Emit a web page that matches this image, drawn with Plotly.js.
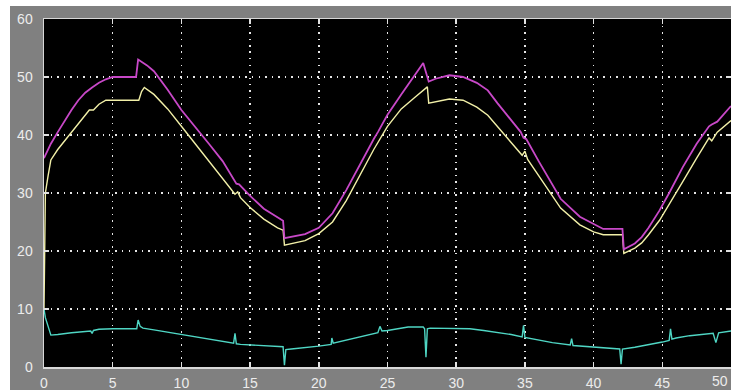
<!DOCTYPE html>
<html>
<head>
<meta charset="utf-8">
<script src="https://cdn.plot.ly/plotly-3.0.1.min.js"></script>
<style>
  html, body { margin: 0; padding: 0; background: #ffffff; overflow: hidden; }
  #frame { position: absolute; left: 10px; top: 6px; width: 721px; height: 384px; background: #808080; }
  #chart { position: absolute; left: 0; top: 0; width: 731px; height: 390px; }
</style>
</head>
<body>
<div id="frame"></div>
<div id="chart"></div>
<script>
// Magenta trace (upper curve)
const magentaT = [0, 0.5, 1, 1.5, 2, 2.5, 3, 3.5, 4, 4.5,
                  5, 6.0, 6.7, 6.85, 7.5, 8, 9, 10, 11, 12,
                  13, 13.8, 14.0, 14.2, 15, 16, 17, 17.4, 17.5, 18,
                  19, 20, 21, 22, 23, 24, 24.3, 25, 26, 27,
                  27.6, 28, 28.5, 29.5, 30.5, 31.5, 32.3, 33, 34, 34.7,
                  34.9, 35.1, 36, 37, 37.6, 39, 40, 40.7, 42.1, 42.2,
                  43, 43.5, 44, 44.8, 45.5, 46.5, 47.5, 48.4, 48.6, 49,
                  50];
const magentaV = [36, 38.5, 40.5, 42.5, 44.3, 46, 47.3, 48.2, 49, 49.6,
                  50, 50, 50, 53, 52, 51, 47.8, 44.3, 41.5, 38.5,
                  35.5, 32.5, 31.6, 31.5, 29.5, 27.3, 25.8, 25.2, 22.2, 22.4,
                  22.9, 24, 26.5, 30.5, 35, 39.3, 40.5, 43.5, 47, 50.5,
                  52.4, 49.2, 49.7, 50.3, 50, 49, 47.7, 45.5, 42.5, 40.5,
                  39.5, 39.3, 35.5, 31.5, 29, 25.9, 24.6, 23.8, 23.8, 20.3,
                  21.3, 22.4, 24, 27, 30, 34.5, 38.5, 41.5, 41.8, 42.3,
                  45];

// Yellow trace (middle curve)
const yellowT = [0, 0.05, 0.1, 0.3, 0.5, 1, 1.5, 2, 2.5, 3,
                 3.3, 3.6, 4, 4.5, 6.9, 7.1, 7.3, 8, 9, 10,
                 11, 12, 13, 13.9, 14.1, 14.3, 15, 16, 17, 17.4,
                 17.5, 18, 19, 20, 21, 22, 23, 24, 25, 26,
                 27, 27.9, 28.0, 28.5, 29.5, 30.5, 31.5, 32.3, 33, 34,
                 34.8, 35.0, 35.2, 36, 37, 37.6, 39, 40, 40.7, 42.1,
                 42.2, 43, 43.5, 44, 44.8, 45.5, 46.5, 47.5, 48.4, 48.6,
                 49, 50];
const yellowV = [10, 26, 30, 33, 35.7, 37.5, 39, 40.5, 42, 43.5,
                 44.3, 44.3, 45.3, 46, 46, 47.5, 48.2, 47, 44.5, 41.5,
                 38.5, 35.5, 32.3, 29.8, 30.2, 29.2, 27.5, 25.5, 24, 23.6,
                 21, 21.3, 21.8, 23, 25, 28.7, 33, 37.5, 41.5, 44.5,
                 46.5, 48.3, 45.5, 45.7, 46.2, 46, 44.8, 43.4, 41.5, 38.8,
                 36.5, 37.2, 35.8, 33, 29.5, 27.4, 24.5, 23.3, 22.8, 22.8,
                 19.6, 20.5, 21.4, 22.8, 25.3, 28, 32, 36, 39.5, 39,
                 40.5, 42.5];

// Cyan trace (lower curve)
const cyanT = [0, 0.1, 0.5, 0.7, 1, 2, 3, 3.4, 3.5, 3.6,
               4, 5, 6.75, 6.85, 7.0, 7.2, 8, 9, 10, 11,
               12, 13, 13.8, 13.9, 14.0, 14.3, 15, 16, 17, 17.4,
               17.5, 17.6, 18, 19, 20, 20.9, 20.95, 21.05, 22, 23,
               24.3, 24.45, 24.6, 25, 26, 26.5, 27.6, 27.7, 27.8, 27.9,
               28.1, 29, 30, 31, 32, 33, 34, 34.8, 34.9, 35.0,
               36, 37, 38.3, 38.4, 38.5, 39, 40, 41, 41.9, 42.0,
               42.1, 43, 44, 45, 45.5, 45.6, 45.7, 46, 47, 48,
               48.7, 48.9, 49.1, 50];
const cyanV = [10, 8.5, 5.5, 5.5, 5.6, 5.9, 6.2, 6.2, 5.8, 6.3,
               6.5, 6.6, 6.6, 8.1, 7.0, 6.7, 6.4, 6.0, 5.6, 5.2,
               4.8, 4.4, 4.1, 5.8, 4.0, 3.9, 3.8, 3.7, 3.6, 3.5,
               0.3, 3.0, 3.1, 3.3, 3.6, 3.9, 5.0, 4.1, 4.6, 5.2,
               5.9, 7.0, 6.2, 6.3, 6.7, 6.9, 6.9, 6.6, 1.7, 6.6,
               6.7, 6.7, 6.7, 6.6, 6.3, 6.0, 5.6, 5.2, 7.2, 5.1,
               4.6, 4.2, 3.8, 4.9, 3.7, 3.6, 3.4, 3.2, 3.1, 0.5,
               3.1, 3.4, 3.8, 4.3, 4.6, 6.6, 4.8, 5.0, 5.4, 5.7,
               5.8, 4.2, 5.9, 6.2];

const xTicks = [0, 5, 10, 15, 20, 25, 30, 35, 40, 45, 50];
const yTicks = [0, 10, 20, 30, 40, 50, 60];

const lineW = 1.4;
const traces = [
  {x: cyanT, y: cyanV, type: 'scatter', mode: 'lines', line: {color: '#4fd6c4', width: lineW}},
  {x: yellowT, y: yellowV, type: 'scatter', mode: 'lines', line: {color: '#f2f0a8', width: lineW}},
  {x: magentaT, y: magentaV, type: 'scatter', mode: 'lines', line: {color: '#c848c8', width: lineW + 0.4}}
];

const tickFont = {family: 'Liberation Sans, Arial, sans-serif', size: 14, color: '#ececec'};

const axisCommon = {
  showgrid: true,
  gridcolor: '#e6e6e6',
  gridwidth: 1.5,
  griddash: '1.5px,5px',
  zeroline: false,
  showline: true,
  linecolor: '#d8d8d8',
  linewidth: 1.5,
  mirror: 'ticks',
  ticks: 'inside',
  ticklen: 5,
  tickcolor: '#e0e0e0',
  tickwidth: 1.5,
  tickfont: tickFont,
  fixedrange: true
};

// The last x tick label sits at the window edge; anchor it to the right so it stays whole
const lastX = xTicks[xTicks.length - 1];

const layout = {
  width: 731,
  height: 390,
  margin: {l: 44, r: 0, t: 19, b: 23, pad: 0},
  paper_bgcolor: 'rgba(0,0,0,0)',
  plot_bgcolor: '#000000',
  showlegend: false,
  xaxis: Object.assign({}, axisCommon, {
    range: [0, 50],
    tickmode: 'array',
    tickvals: xTicks.slice(0, -1),
    ticktext: xTicks.slice(0, -1).map(String),
    ticklabelstandoff: 3
  }),
  yaxis: Object.assign({}, axisCommon, {
    range: [0, 60],
    tickmode: 'array',
    tickvals: yTicks,
    ticktext: yTicks.map(String),
    ticklabelstandoff: 7
  }),
  annotations: [{
    x: lastX, xref: 'x', y: 0, yref: 'paper',
    yanchor: 'top', xanchor: 'right', xshift: -1, yshift: -4,
    text: String(lastX), showarrow: false, font: tickFont
  }]
};

Plotly.newPlot('chart', traces, layout, {staticPlot: true, displayModeBar: false});
</script>
</body>
</html>
